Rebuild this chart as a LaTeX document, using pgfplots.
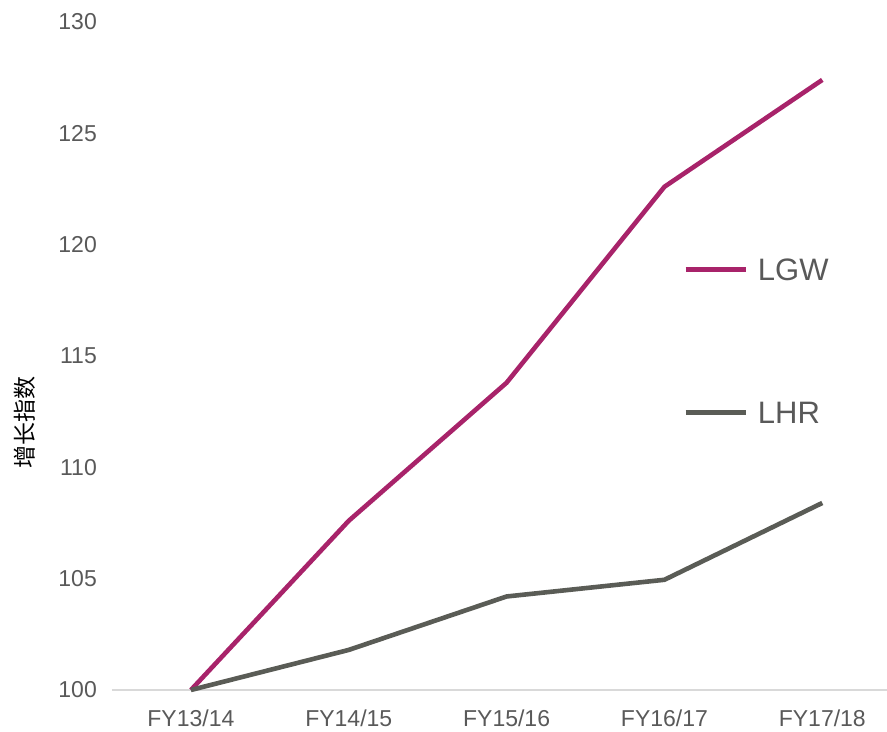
\documentclass[border=0pt]{standalone}
\usepackage{fontspec}
\setmainfont{Liberation Sans}
\newfontfamily\cjk{Noto Sans CJK SC}
\usepackage{pgfplots}
\pgfplotsset{compat=1.18}

\definecolor{lgw}{HTML}{A8236A}
\definecolor{lhr}{HTML}{5A5C56}
\definecolor{txt}{HTML}{595959}
\definecolor{axisgray}{HTML}{D9D9D9}

\begin{document}
\begin{tikzpicture}
\useasboundingbox (-112bp,-42bp) rectangle (775bp,690bp);
\begin{axis}[
  at={(0,0)}, anchor=south west,
  scale only axis,
  width=775bp, height=668bp,
  xmin=-0.5, xmax=4.41,
  ymin=100, ymax=130,
  xtick={0,1,2,3,4},
  xticklabels={FY13/14,FY14/15,FY15/16,FY16/17,FY17/18},
  ytick={100,105,110,115,120,125,130},
  axis lines*=left,
  x axis line style={draw=axisgray, line width=1.2bp, -},
  y axis line style={draw=none},
  major tick length=0pt,
  /pgf/number format/assume math mode=true,
  tick label style={font=\fontsize{23bp}{23bp}\selectfont, text=txt},
  yticklabel style={anchor=east, inner sep=0pt, xshift=-15bp},
  xticklabel style={anchor=north, inner sep=0pt, yshift=-20bp},
  ylabel={\cjk 增长指数},
  ylabel style={at={(axis description cs:-0.1123,0.40)}, anchor=center,
    font=\fontsize{23bp}{23bp}\selectfont, text=black},
  clip=false,
  legend style={draw=none, fill=none, at={(0.737,0.521)}, anchor=west,
    inner sep=0pt, font=\fontsize{31bp}{31bp}\selectfont, text=txt,
    row sep=120bp, column sep=0bp,
    nodes={inner sep=0pt, anchor=base west}},
  legend cell align=left,
  legend image code/.code={\draw[#1] (0bp,11bp) -- (60bp,11bp) (70bp,11bp);},
]
\addplot[lgw, line width=4.6bp, line join=round] coordinates {
  (0,100) (1,107.6) (2,113.8) (3,122.6) (4,127.4)
};
\addlegendentry{LGW}
\addplot[lhr, line width=4.6bp, line join=round] coordinates {
  (0,100) (1,101.8) (2,104.2) (3,104.95) (4,108.4)
};
\addlegendentry{LHR}
\end{axis}
\end{tikzpicture}
\end{document}
